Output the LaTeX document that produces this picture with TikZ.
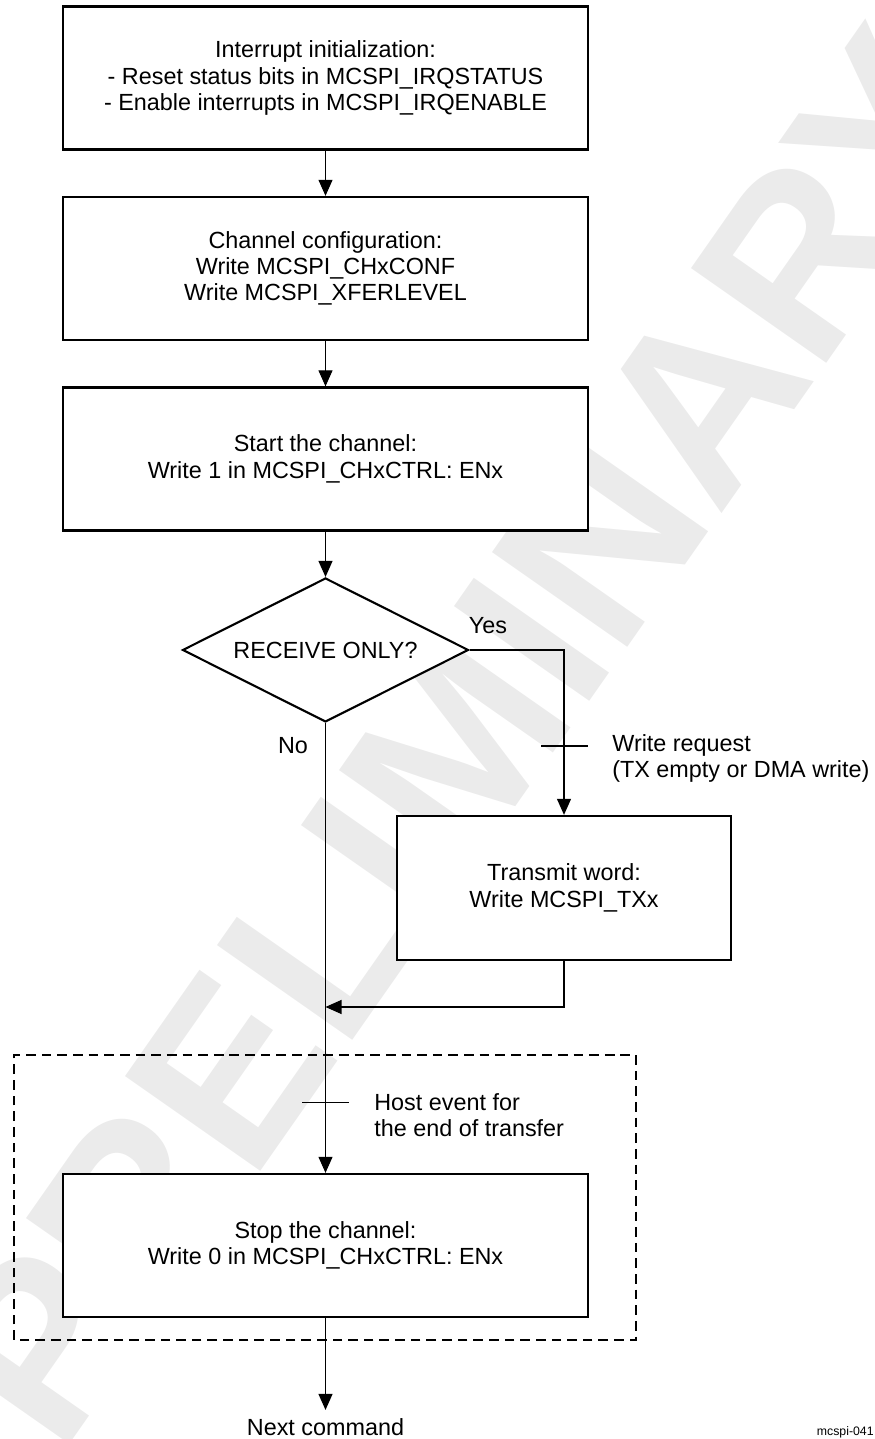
\documentclass[tikz,border=0pt]{standalone}
\usepackage{fontspec}
\setmainfont{Liberation Sans}
\usepackage{tikz}
\usetikzlibrary{arrows.meta,positioning,calc,shapes.geometric}
\definecolor{wmgray}{HTML}{EBEBEB}
\tikzset{
  stepbox/.style  = {rectangle, draw=black, line width=1.3pt, fill=white,
                     minimum width=10.5cm, minimum height=2.86cm, align=center,
                     font=\fontsize{13.3}{15}\selectfont},
  txbox/.style    = {stepbox, minimum width=6.68cm, minimum height=2.88cm},
  decision/.style = {diamond, draw=black, line width=1.2pt, fill=white, shape aspect=2,
                     inner sep=0pt, minimum width=5.72cm, minimum height=2.88cm,
                     font=\fontsize{13.3}{15}\selectfont},
  conn/.style     = {-{Triangle[length=0.32cm,width=0.28cm]}, line width=0.6pt},
  tickln/.style   = {line width=0.6pt},
  lbl/.style      = {font=\fontsize{13.3}{15}\selectfont, align=left, inner sep=0pt},
  hostbox/.style  = {draw=black, line width=1pt, dash pattern=on 5.5pt off 3.4pt},
  wmark/.style    = {font=\fontsize{136.6}{140}\selectfont\bfseries, text=wmgray, inner sep=0pt},
}

\begin{document}
\begin{tikzpicture}
\useasboundingbox (0,0) rectangle (17.5,28.78);

% watermark
\begin{scope}
\clip (0,0) rectangle (17.5,28.78);
\node[wmark, anchor=base west, rotate=55] (wm) at (1.2,-0.38) {PRELIMINARY};
\end{scope}

% main column
\node[stepbox] (init)  at (6.51,27.22) {Interrupt initialization:\\- Reset status bits in MCSPI\_IRQSTATUS\\- Enable interrupts in MCSPI\_IRQENABLE};
\node[stepbox] (chcfg) at (6.51,23.41) {Channel configuration:\\Write MCSPI\_CHxCONF\\Write MCSPI\_XFERLEVEL};
\node[stepbox] (start) at (6.51,19.60) {Start the channel:\\Write 1 in MCSPI\_CHxCTRL: ENx};
\node[decision] (recv) at (6.51,15.78) {RECEIVE ONLY?};
\node[txbox]   (txw)   at (11.28,11.02) {Transmit word:\\Write MCSPI\_TXx};
\node[stepbox] (stop)  at (6.51,3.87) {Stop the channel:\\Write 0 in MCSPI\_CHxCTRL: ENx};
\node[lbl, inner ysep=5pt, anchor=base] (next) at (6.51,0.06) {Next command};
\coordinate (merge) at (6.51,8.64);

% branch labels
\node[lbl] (yes) at (9.76,16.26) {Yes};
\node[lbl] (no)  at (5.86,13.86) {No};
\node[lbl, anchor=west] (wreq) at (12.24,13.61) {Write request\\(TX empty or DMA write)};
\node[lbl, anchor=west] (hev)  at (7.48,6.475) {Host event for\\the end of transfer};

% end of transfer block
\draw[hostbox] (0.28,1.98) rectangle (12.72,7.68);

% connectors
\draw[conn] (init) -- (chcfg);
\draw[conn] (chcfg) -- (start);
\draw[conn] (start) -- (recv);
\draw[conn] (recv.east) -| (txw.north);
\draw[conn] (txw.south) |- (merge);
\draw[conn] (recv.south) -- (stop.north);
\draw[conn] (stop) -- (next);

% event ticks
\coordinate (wtick) at (11.29,13.86);
\coordinate (htick) at (6.51,6.73);
\draw[tickln] ([xshift=-0.47cm]wtick) -- ([xshift=0.47cm]wtick);
\draw[tickln] ([xshift=-0.47cm]htick) -- ([xshift=0.47cm]htick);

\node[font=\fontsize{7}{8}\selectfont, anchor=east, inner sep=0pt] (figid) at (17.48,0.14) {mcspi-041};
\end{tikzpicture}
\end{document}
